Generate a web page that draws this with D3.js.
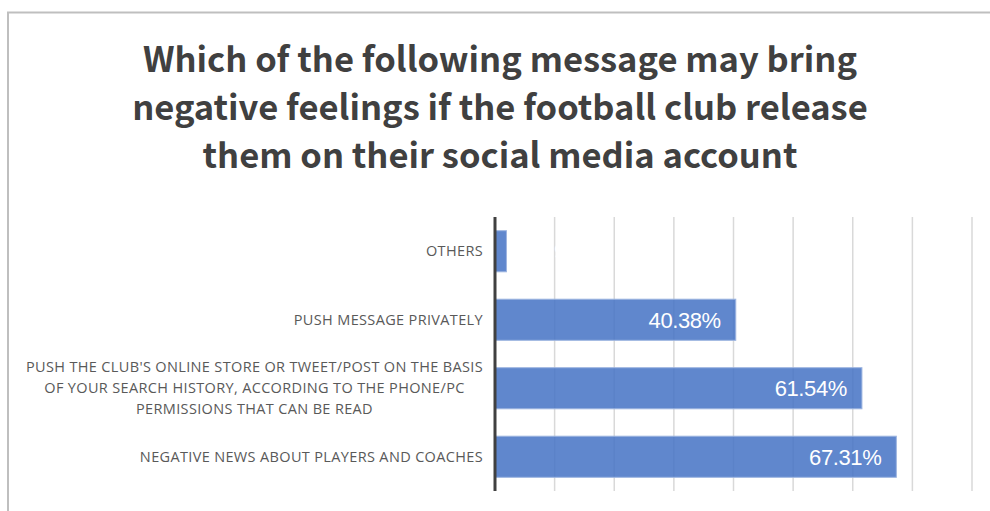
<!DOCTYPE html>
<html>
<head>
<meta charset="utf-8">
<script src="https://cdn.jsdelivr.net/npm/d3@7"></script>
<style>
  html, body { margin: 0; padding: 0; background: #fff; }
  svg { display: block; }
</style>
</head>
<body>
<svg id="chart" width="990" height="511"></svg>
<script>
// Survey answers (share of respondents)
const categories = [
  "OTHERS",
  "PUSH MESSAGE PRIVATELY",
  "PUSH THE CLUB'S ONLINE STORE OR TWEET/POST ON THE BASIS|OF YOUR SEARCH HISTORY, ACCORDING TO THE PHONE/PC|PERMISSIONS THAT CAN BE READ",
  "NEGATIVE NEWS ABOUT PLAYERS AND COACHES"
];
const values = [0.0192, 0.4038, 0.6154, 0.6731];
const valueLabels = ["1.92%", "40.38%", "61.54%", "67.31%"];
const gridTicks = [0.1, 0.2, 0.3, 0.4, 0.5, 0.6, 0.7, 0.8];
const titleLines = [
  "Which of the following message may bring",
  "negative feelings if the football club release",
  "them on their social media account"
];

const svg = d3.select("#chart");

// outer frame of the chart area
svg.append("path")
  .attr("d", "M8,511 V12.5 H990")
  .attr("fill", "none")
  .attr("stroke", "#bfbfbf")
  .attr("stroke-width", 2);

// title
svg.append("g")
  .selectAll("text")
  .data(titleLines)
  .join("text")
  .attr("x", 500)
  .attr("y", (d, i) => 72 + i * 48)
  .attr("text-anchor", "middle")
  .attr("font-family", "'Noto Sans CJK SC', 'Noto Sans', sans-serif")
  .attr("font-weight", "bold")
  .attr("font-size", 34.5)
  .attr("fill", "#404040")
  .text(d => d);

const x = d3.scaleLinear().domain([0, 0.8]).range([495, 972]);
const y = d3.scaleBand().domain(categories).range([217, 491]).paddingInner(0.4).paddingOuter(0.2);

// vertical gridlines
svg.append("g")
  .selectAll("line")
  .data(gridTicks)
  .join("line")
  .attr("x1", d => x(d)).attr("x2", d => x(d))
  .attr("y1", 217).attr("y2", 491)
  .attr("stroke", "#d9d9d9")
  .attr("stroke-width", 1.5);

// bars
svg.append("g")
  .selectAll("rect")
  .data(values)
  .join("rect")
  .attr("x", x(0))
  .attr("y", (d, i) => y(categories[i]))
  .attr("width", d => x(d) - x(0))
  .attr("height", y.bandwidth())
  .attr("fill", "#4472c4")
  .attr("fill-opacity", 0.85)
  .attr("stroke", "#9db5e0")
  .attr("stroke-width", 1);

// value labels
svg.append("g")
  .selectAll("text")
  .data(values)
  .join("text")
  .attr("x", (d, i) => i === 0 ? x(d) + 30 : x(d) - 15)
  .attr("y", (d, i) => y(categories[i]) + y.bandwidth() / 2)
  .attr("dy", "0.36em")
  .attr("text-anchor", (d, i) => i === 0 ? "start" : "end")
  .attr("font-family", "'Liberation Sans', Arial, sans-serif")
  .attr("font-size", 22)
  .attr("letter-spacing", -0.4)
  .attr("fill", "#ffffff")
  .text((d, i) => valueLabels[i]);

// category axis line
svg.append("line")
  .attr("x1", x(0)).attr("x2", x(0))
  .attr("y1", 217).attr("y2", 491)
  .attr("stroke", "#404040")
  .attr("stroke-width", 3);

// category labels, multi-line ones centred as a block against the axis
const labelG = svg.append("g");
categories.forEach((c, i) => {
  const lines = c.split("|");
  const cy = y(c) + y.bandwidth() / 2;
  const t = labelG.append("text")
    .attr("font-family", "'Open Sans', 'Noto Sans', sans-serif")
    .attr("font-size", 14.5)
    .attr("letter-spacing", 0.35)
    .attr("fill", "#595959");
  const spans = lines.map((ln, j) => t.append("tspan")
    .attr("y", cy + (j - (lines.length - 1) / 2) * 21)
    .attr("dy", "0.35em")
    .text(ln));
  const widest = d3.max(spans, s => s.node().getComputedTextLength());
  const right = x(0) - 12;
  const centre = right - widest / 2;
  spans.forEach(s => s.attr("x", centre).attr("text-anchor", "middle"));
});
</script>
</body>
</html>
